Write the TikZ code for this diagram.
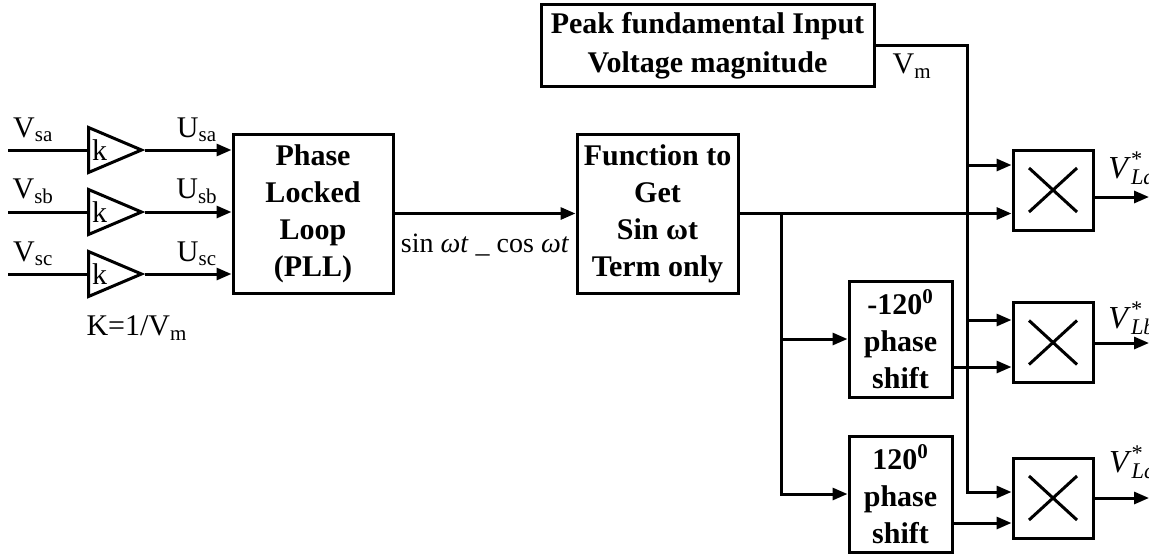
\documentclass[tikz,border=0pt]{standalone}
\usepackage{fontspec}
\setmainfont{Liberation Serif}
\usetikzlibrary{arrows.meta,shapes.geometric}
\tikzset{
  every picture/.style={line width=1.5pt,x=0.5pt,y=-0.5pt},
  blk/.style={draw,align=center,inner sep=0pt,font=\fontsize{15}{18.5}\selectfont\bfseries},
  amp/.style={draw,isosceles triangle,isosceles triangle stretches,anchor=west,
    minimum width=22.5pt,minimum height=26.5pt,inner sep=0.5pt,font=\fontsize{15}{16}\selectfont},
  mult/.style={draw,minimum size=40pt,inner sep=0pt,
    path picture={\draw ([shift={(-12pt,-11pt)}]path picture bounding box.center)
      -- ([shift={(12pt,11pt)}]path picture bounding box.center)
      ([shift={(-12pt,11pt)}]path picture bounding box.center)
      -- ([shift={(12pt,-11pt)}]path picture bounding box.center);}},
  sig/.style={-{Triangle[length=7.5pt,width=6pt]}},
  lbl/.style={font=\fontsize{15}{17}\selectfont},
  outlbl/.style={font=\fontsize{16}{18}\selectfont},
}
\begin{document}
\begin{tikzpicture}
  \useasboundingbox (0,0) rectangle (1149,556);
  % blocks
  \node[blk,minimum width=80pt,minimum height=79.5pt] (pll) at (313,213.5) {Phase\\Locked\\Loop\\(PLL)};
  \node[blk,minimum width=80.5pt,minimum height=79.5pt] (fn) at (657.5,213.5) {Function to\\Get\\Sin ωt\\Term only};
  \node[blk,minimum width=166.5pt,minimum height=41pt,font=\fontsize{15}{19.5}\selectfont\bfseries] (peak) at (707.5,46) {Peak fundamental Input\\Voltage magnitude};
  \node[blk,minimum width=51.5pt,minimum height=58pt] (shb) at (900.5,339) {-120\textsuperscript{0}\\phase\\shift};
  \node[blk,minimum width=51.5pt,minimum height=58pt] (shc) at (900.5,494) {120\textsuperscript{0}\\phase\\shift};
  \node[mult] (ma) at (1053,190) {};
  \node[mult] (mb) at (1053,342.5) {};
  \node[mult] (mc) at (1053,498) {};

  % gains and inputs
  \foreach \n/\y in {a/150,b/212,c/274}{
    \node[amp] (k\n) at (87,\y) {k};
    \coordinate (in\n) at (8,\y);
    \draw (in\n) -- node[lbl,above,pos=0.32]{V\textsubscript{s\n}} (k\n.west);
    \draw[sig] (k\n.apex) -- node[lbl,above,pos=0.6]{U\textsubscript{s\n}} (k\n.apex -| pll.west);
  }
  \node[lbl] (kval) at (137,328) {K=1/V\textsubscript{m}};

  \draw[sig] (pll.east) -- node[lbl,below=6pt,font=\fontsize{14}{16}\selectfont]{sin \textit{ωt} \_ cos \textit{ωt}} (fn.west);
  \draw[sig] (fn.east) -- (fn.east -| ma.west);

  % phase shifted branches
  \coordinate (br) at (781,213.5);
  \draw[sig] (br) |- (shb.west);
  \draw[sig] (br) |- (shc.west);

  % peak voltage feed
  \coordinate (vma) at (967,165);
  \coordinate (vmb) at (967,320);
  \coordinate (vmc) at (967,492);
  \draw[sig] (peak.east) -| node[lbl,below,pos=0.2]{V\textsubscript{m}} (vmc) -- (vmc -| mc.west);
  \draw[sig] (vma) -- (vma -| ma.west);
  \draw[sig] (vmb) -- (vmb -| mb.west);

  \coordinate (sob) at (952,367);
  \coordinate (soc) at (952,523);
  \draw[sig] (sob) -- (sob -| mb.west);
  \draw[sig] (soc) -- (soc -| mc.west);

  % outputs
  \coordinate (oa) at (1149,197);
  \coordinate (ob) at (1149,343);
  \coordinate (oc) at (1149,498);
  \draw[sig] (ma.east |- oa) -- (oa);
  \draw[sig] (mb.east |- ob) -- (ob);
  \draw[sig] (mc.east |- oc) -- (oc);
  \node[outlbl] (la) at (1132,168) {\textit{V}\rlap{\textsuperscript{*}}\textsubscript{\textit{La}}};
  \node[outlbl] (lb) at (1132,318) {\textit{V}\rlap{\textsuperscript{*}}\textsubscript{\textit{Lb}}};
  \node[outlbl] (lc) at (1132,462) {\textit{V}\rlap{\textsuperscript{*}}\textsubscript{\textit{Lc}}};
\end{tikzpicture}
\end{document}
